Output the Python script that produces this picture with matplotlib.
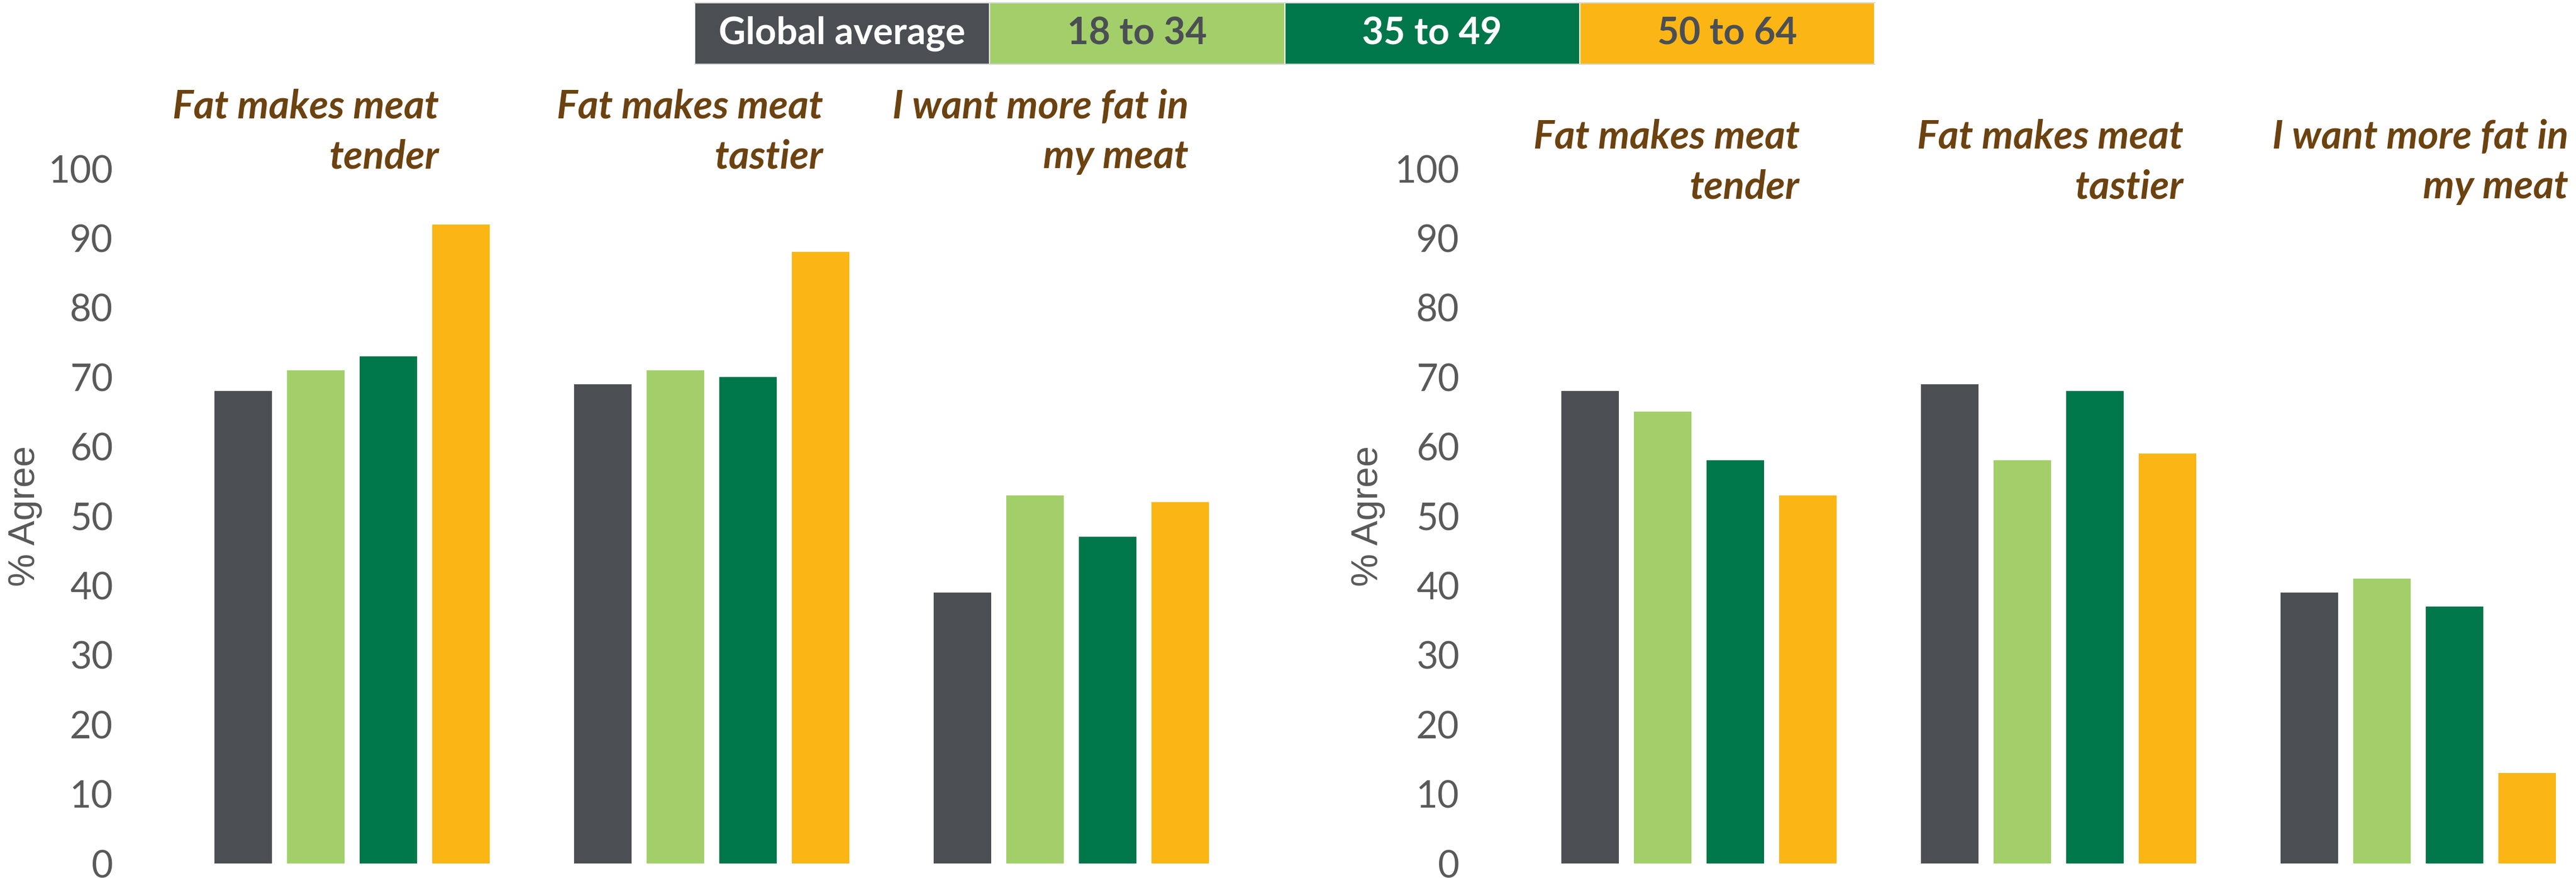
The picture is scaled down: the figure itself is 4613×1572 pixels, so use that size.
import numpy as np
import matplotlib
matplotlib.use("Agg")
import matplotlib.pyplot as plt
import matplotlib.transforms as mtransforms
from matplotlib.patches import Rectangle

# data
series = ["Global average", "18 to 34", "35 to 49", "50 to 64"]
categories = ["Fat makes meat\ntender", "Fat makes meat\ntastier", "I want more fat in\nmy meat"]
left_vals = [
    [68, 69, 39],   # Global average
    [71, 71, 53],   # 18 to 34
    [73, 70, 47],   # 35 to 49
    [92, 88, 52],   # 50 to 64
]
right_vals = [
    [68, 69, 39],
    [65, 58, 41],
    [58, 68, 37],
    [53, 59, 13],
]
yticks = [0, 10, 20, 30, 40, 50, 60, 70, 80, 90, 100]

colors = ["#4B4F54", "#A2CF69", "#00774A", "#FBB616"]
legend_text_colors = ["white", "#4B4F54", "white", "#4B4F54"]
brown = "#6B4210"
tick_grey = "#595959"

W, H = 4613, 1572
fig = plt.figure(figsize=(W / 100, H / 100), dpi=100)

pitch = 644.0          # px per category
bar_w = 103 / pitch
step = 130 / pitch


def px_ax(x0, x1, center0):
    # axes rect from pixel coords, xlim so that category 0 sits at center0
    ax = fig.add_axes([x0 / W, (H - 1546) / H, (x1 - x0) / W, (1546 - 302) / H])
    ax.set_xlim((x0 - center0) / pitch, (x1 - center0) / pitch)
    return ax


def draw_panel(ax, vals, title_dx, title_y, ylab_x):
    x = np.arange(len(categories))
    for i, s in enumerate(series):
        ax.bar(x + (i - 1.5) * step, vals[i], width=bar_w, color=colors[i], label=s)
    ax.set_ylim(0, 100)
    ax.set_yticks(yticks)
    ax.set_yticklabels([str(t) for t in yticks], fontsize=48, color=tick_grey, family="Lato")
    ax.tick_params(axis="y", length=0, pad=20)
    ax.set_xticks([])
    for sp in ax.spines.values():
        sp.set_visible(False)

    trans = mtransforms.blended_transform_factory(ax.transData, fig.transFigure)
    for j, cat in enumerate(categories):
        for k, line in enumerate(cat.split("\n")):
            ax.text(j + title_dx[j], 1 - title_y[k] / H, line, transform=trans,
                    ha="right", va="baseline", fontsize=51, color=brown,
                    family="Lato", fontweight="bold", fontstyle="italic")

    fig.text(ylab_x / W, 1 - 924 / H, "% Agree", rotation=90, ha="center", va="center",
             fontsize=48, color=tick_grey, family="Liberation Sans")


ax1 = px_ax(230, 2240, 630.5)
draw_panel(ax1, left_vals, [0.2415, 0.310, 0.326], [212, 301], 45)

ax2 = px_ax(2641, 4613, 3042.5)
draw_panel(ax2, right_vals, [0.280, 0.347, 0.417], [266, 355], 2450)

# legend strip at the top
lx0, lx1, ly0, ly1 = 1244, 3357, 5, 115
lax = fig.add_axes([lx0 / W, 1 - ly1 / H, (lx1 - lx0) / W, (ly1 - ly0) / H])
lax.set_xlim(0, len(series))
lax.set_ylim(0, 1)
lax.axis("off")
for i, s in enumerate(series):
    lax.add_patch(Rectangle((i, 0), 1, 1, facecolor=colors[i], edgecolor="white", linewidth=1.5))
    lax.text(i + 0.5, 0.5, s, ha="center", va="center", fontsize=48, fontweight="bold",
             color=legend_text_colors[i], family="Lato")
lax.plot([0, 4], [1, 1], color="#D9D9D9", lw=1.5, clip_on=False)
lax.plot([0, 4], [0, 0], color="#D9D9D9", lw=1.5, clip_on=False)

fig.savefig("out.png", dpi=100, facecolor="white")
